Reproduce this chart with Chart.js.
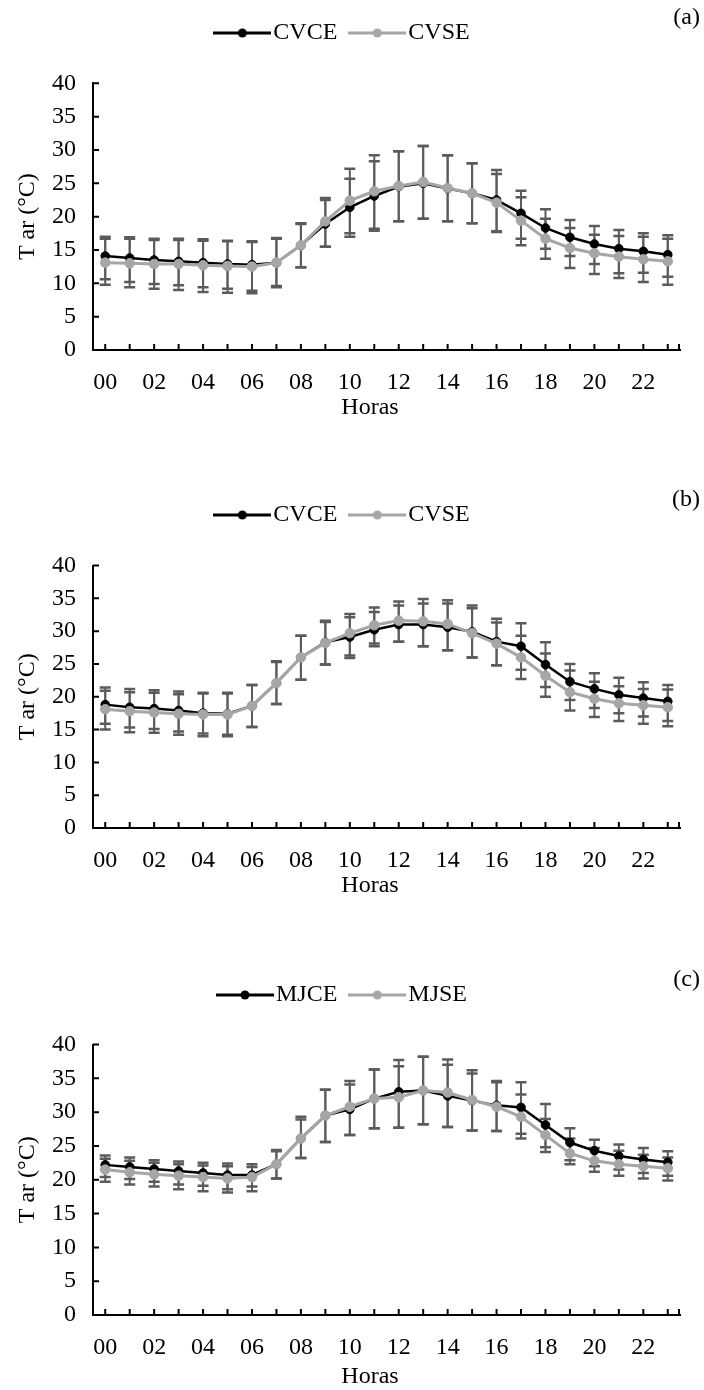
<!DOCTYPE html>
<html><head><meta charset="utf-8">
<script src="https://cdn.jsdelivr.net/npm/chart.js@4.4.1/dist/chart.umd.min.js"></script>
<style>
html,body{margin:0;padding:0;background:#fff;width:704px;height:1390px;overflow:hidden;}
.panel{position:absolute;left:0;width:704px;}
canvas{display:block;}
</style></head><body>
<div class="panel" style="top:0px"><canvas id="ca" width="704" height="430"></canvas></div>
<div class="panel" style="top:482px"><canvas id="cb" width="704" height="426"></canvas></div>
<div class="panel" style="top:962px"><canvas id="cc" width="704" height="433"></canvas></div>
<script>
// ---------- data ----------
const hours = ['00','01','02','03','04','05','06','07','08','09','10','11','12','13','14','15','16','17','18','19','20','21','22','23'];
const yTickValues = [0,5,10,15,20,25,30,35,40];

// (a)
const aCVCE   = [14.1,13.8,13.5,13.3,13.1,12.9,12.8,13.1,15.7,18.9,21.4,23.1,24.5,25.0,24.2,23.5,22.5,20.5,18.3,16.9,15.9,15.2,14.8,14.3];
const aCVSE   = [13.1,13.0,12.9,12.9,12.7,12.6,12.5,13.1,15.7,19.3,22.4,23.8,24.6,25.2,24.3,23.5,22.1,19.4,16.7,15.3,14.5,14.0,13.6,13.3];
const aCVCEhi = [17.0,16.9,16.7,16.7,16.6,16.4,16.3,16.8,19.0,22.5,25.7,28.3,29.8,30.6,29.2,28.0,27.0,23.9,21.1,19.5,18.6,18.0,17.5,17.2];
const aCVCElo = [10.6,10.2,9.9,9.7,9.4,9.2,8.9,9.6,12.4,15.5,17.0,17.9,19.3,19.7,19.3,19.0,17.8,16.7,15.2,14.1,12.9,11.5,11.6,11.0];
const aCVSEhi = [16.7,16.7,16.5,16.5,16.4,16.3,16.2,16.7,18.9,22.8,27.2,29.2,29.8,30.6,29.2,28.0,26.4,22.9,19.7,18.3,17.3,17.1,17.0,16.7];
const aCVSElo = [9.8,9.4,9.2,9.0,8.7,8.6,8.5,9.4,12.4,15.5,17.5,18.2,19.3,19.7,19.3,19.0,17.7,15.7,13.7,12.3,11.4,10.8,10.2,9.8];

// (b)
const bCVCE   = [18.8,18.4,18.2,17.9,17.5,17.4,18.6,22.1,26.0,28.3,29.1,30.2,31.0,31.0,30.6,29.9,28.4,27.7,24.9,22.3,21.2,20.3,19.8,19.3];
const bCVSE   = [18.1,17.8,17.6,17.4,17.3,17.3,18.6,22.1,26.0,28.2,29.7,30.9,31.6,31.5,31.1,29.7,28.1,26.0,23.2,20.7,19.7,19.0,18.7,18.4];
const bCVCEhi = [21.4,21.2,21.0,20.8,20.6,20.6,21.8,25.4,29.3,31.4,32.1,32.9,33.9,34.2,34.2,33.9,31.9,31.2,28.3,25.0,23.6,22.9,22.2,21.8];
const bCVCElo = [15.9,15.3,15.1,14.7,14.4,14.2,15.4,18.9,22.6,24.9,25.9,27.7,28.4,27.7,27.1,26.0,24.8,24.1,21.5,19.5,18.3,17.5,17.0,16.3];
const bCVSEhi = [20.9,20.7,20.6,20.4,20.5,20.5,21.8,25.3,29.3,31.6,32.6,33.6,34.5,34.9,34.7,33.5,31.3,29.3,26.6,24.0,22.3,21.6,21.2,21.1];
const bCVSElo = [15.0,14.6,14.5,14.2,14.0,14.0,15.4,18.9,22.6,24.9,26.3,28.1,28.4,27.7,27.1,26.0,24.8,22.7,20.0,17.9,16.9,16.3,15.9,15.5];

// (c)
const cMJCE   = [22.2,21.9,21.6,21.3,21.0,20.7,20.7,22.3,26.1,29.5,30.4,32.0,33.0,33.2,32.4,31.7,31.0,30.7,28.1,25.5,24.3,23.5,23.0,22.6];
const cMJSE   = [21.5,21.1,20.8,20.6,20.4,20.2,20.4,22.3,26.1,29.5,30.8,32.0,32.2,33.2,32.9,31.8,30.8,29.3,26.6,23.9,22.8,22.3,22.0,21.7];
const cMJCEhi = [23.6,23.3,22.9,22.7,22.5,22.4,22.3,24.4,29.3,33.3,34.1,36.3,37.7,38.2,37.0,35.7,34.6,34.4,31.2,27.6,25.9,25.2,24.7,24.2];
const cMJCElo = [20.4,20.1,19.7,19.3,19.1,18.6,19.0,20.2,23.2,25.6,26.6,27.6,27.7,28.2,27.8,27.3,27.2,26.8,24.8,22.9,22.0,21.5,21.0,20.6];
const cMJSEhi = [23.1,22.8,22.5,22.3,22.1,22.0,21.9,24.2,28.9,33.3,34.6,36.3,36.8,38.2,37.8,36.2,34.4,32.6,29.0,26.1,24.7,24.3,23.7,23.3];
const cMJSElo = [19.7,19.3,19.0,18.6,18.3,18.1,18.3,20.2,23.2,25.6,26.6,27.6,27.7,28.2,27.8,27.3,27.2,26.1,24.1,22.3,21.2,20.6,20.2,19.9];

// ---------- styling ----------
const FONT = "'Liberation Serif','Times New Roman',serif";
const FS = 24;
const BLACK = '#000000', GRAY = '#a6a6a6', ERR = '#5b5b5b';
Chart.defaults.font.family = FONT;
Chart.defaults.font.size = FS;
Chart.defaults.color = '#000';

function legendIcon(color, lw, r) {
  const c = document.createElement('canvas');
  c.width = 58; c.height = 14;
  const g = c.getContext('2d');
  g.strokeStyle = color; g.lineWidth = lw;
  g.beginPath(); g.moveTo(0, 7); g.lineTo(58, 7); g.stroke();
  g.fillStyle = color;
  g.beginPath(); g.arc(29, 7, r, 0, Math.PI * 2); g.fill();
  return c;
}

const errorBars = {
  id: 'errorBars',
  beforeDatasetsDraw(chart) {
    const ctx = chart.ctx, xs = chart.scales.x, ys = chart.scales.y;
    ctx.save();
    ctx.strokeStyle = ERR;
    chart.data.datasets.forEach(ds => {
      ds.errHi.forEach((h, i) => {
        const x = xs.getPixelForValue(i);
        const yh = ys.getPixelForValue(h), yl = ys.getPixelForValue(ds.errLo[i]);
        ctx.lineWidth = 2;
        ctx.beginPath(); ctx.moveTo(x, yh); ctx.lineTo(x, yl); ctx.stroke();
        ctx.lineWidth = 2.5;
        ctx.beginPath();
        ctx.moveTo(x - 5.5, yh); ctx.lineTo(x + 5.5, yh);
        ctx.moveTo(x - 5.5, yl); ctx.lineTo(x + 5.5, yl);
        ctx.stroke();
      });
    });
    ctx.restore();
  }
};

const innerTicks = {
  id: 'innerTicks',
  beforeDatasetsDraw(chart) {
    const {ctx, chartArea: a, scales: {x, y}} = chart;
    ctx.save();
    ctx.strokeStyle = '#000'; ctx.lineWidth = 2;
    ctx.beginPath();
    y.ticks.forEach((t, i) => { const py = y.getPixelForTick(i); ctx.moveTo(a.left, py); ctx.lineTo(a.left + 6, py); });
    x.ticks.forEach((t, i) => { const px = x.getPixelForTick(i); ctx.moveTo(px, a.bottom); ctx.lineTo(px, a.bottom - 6); });
    ctx.moveTo(a.right - 1, a.bottom); ctx.lineTo(a.right - 1, a.bottom - 6);
    ctx.stroke();
    ctx.restore();
  }
};

const panelText = {
  id: 'panelText',
  afterDraw(chart, args, opts) {
    const ctx = chart.ctx;
    ctx.save();
    ctx.font = FS + 'px ' + FONT;
    ctx.fillStyle = '#000'; ctx.textBaseline = 'middle';
    ctx.textAlign = 'right';
    ctx.fillText(opts.tag, chart.width - 4, 18);
    ctx.textAlign = 'center';
    ctx.fillText(opts.xTitle, 370, chart.chartArea.bottom + opts.xTitleOffset);
    ctx.restore();
  }
};

const legendGap = {
  id: 'legendGap',
  beforeInit(chart, args, opts) {
    const lg = chart.legend;
    if (!lg) return;
    const fit = lg.fit;
    const extra = opts.extra;
    lg.fit = function () { fit.call(this); this.height += extra; };
  }
};

function makeChart(id, tag, names, vals, his, los, extra, xTitleOffset) {
  const icons = [legendIcon(BLACK, 3, 4.5), legendIcon(GRAY, 3, 4.5)];
  return new Chart(document.getElementById(id), {
    type: 'line',
    data: {
      labels: hours,
      datasets: [
        { label: names[0], data: vals[0], errHi: his[0], errLo: los[0], order: 1,
          borderColor: BLACK, backgroundColor: BLACK, borderWidth: 2.5,
          pointRadius: 4.3, pointBackgroundColor: BLACK, pointBorderColor: BLACK, pointBorderWidth: 1, tension: 0 },
        { label: names[1], data: vals[1], errHi: his[1], errLo: los[1], order: 0,
          borderColor: GRAY, backgroundColor: GRAY, borderWidth: 3,
          pointRadius: 4.8, pointBackgroundColor: GRAY, pointBorderColor: GRAY, pointBorderWidth: 1, tension: 0 }
      ]
    },
    options: {
      responsive: false, animation: false, devicePixelRatio: 1,
      layout: { padding: { left: 13, right: 24, top: 0, bottom: 0 } },
      plugins: {
        tooltip: { enabled: false },
        legend: {
          position: 'top', align: 'center',
          labels: {
            usePointStyle: true, pointStyleWidth: 38, padding: 21,
            font: { size: FS, family: FONT }, color: '#000',
            generateLabels(chart) {
              const items = Chart.defaults.plugins.legend.labels.generateLabels(chart);
              items.forEach(it => { it.pointStyle = icons[it.datasetIndex]; });
              return items.sort((p, q) => p.datasetIndex - q.datasetIndex);
            }
          }
        },
        panelText: { tag: tag, xTitle: 'Horas', xTitleOffset: xTitleOffset },
        legendGap: { extra: extra }
      },
      scales: {
        x: {
          type: 'category', offset: true,
          grid: { display: false, drawTicks: false, offset: false },
          border: { display: true, color: '#000', width: 2 },
          ticks: { autoSkip: false, maxRotation: 0, padding: 18.5, color: '#000',
                   font: { size: FS, family: FONT },
                   callback: (v, i) => (i % 2 === 0 ? hours[i] : '') },
          title: { display: false },
          afterFit: s => { s.height = 80; }
        },
        y: {
          min: 0, max: 40,
          grid: { display: false, drawTicks: false },
          border: { display: true, color: '#000', width: 2 },
          ticks: { stepSize: 5, padding: 17, color: '#000', font: { size: FS, family: FONT } },
          afterBuildTicks: s => { s.ticks = yTickValues.map(v => ({ value: v })); },
          title: { display: true, text: 'T ar (°C)', color: '#000', font: { size: FS, family: FONT },
                   padding: { top: 0.6, bottom: 0 } },
          afterFit: s => { s.width = 80; }
        }
      }
    },
    plugins: [errorBars, innerTicks, panelText, legendGap]
  });
}

makeChart('ca', '(a)', ['CVCE', 'CVSE'], [aCVCE, aCVSE], [aCVCEhi, aCVSEhi], [aCVCElo, aCVSElo], 28.3, 58);
makeChart('cb', '(b)', ['CVCE', 'CVSE'], [bCVCE, bCVSE], [bCVCEhi, bCVSEhi], [bCVCElo, bCVSElo], 28.5, 58);
makeChart('cc', '(c)', ['MJCE', 'MJSE'], [cMJCE, cMJSE], [cMJCEhi, cMJSEhi], [cMJCElo, cMJSElo], 27.5, 62);
</script>
</body></html>
